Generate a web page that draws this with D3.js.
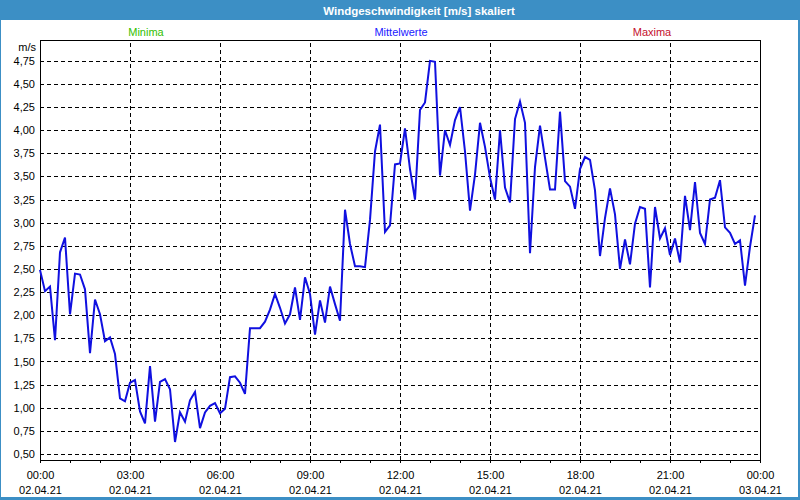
<!DOCTYPE html>
<html>
<head>
<meta charset="utf-8">
<script src="https://cdn.jsdelivr.net/npm/d3@7"></script>
<style>
  html, body { margin: 0; padding: 0; background: #ffffff; }
  svg { display: block; }
  text { font-family: "Liberation Sans", Arial, sans-serif; }
</style>
</head>
<body>
<svg id="chart" width="800" height="500"></svg>
<script>
// ---- data ----
const title = "Windgeschwindigkeit [m/s] skaliert";
const unitLabel = "m/s";
const legendLabels = ["Minima", "Mittelwerte", "Maxima"];
const legendColors = ["#33c000", "#2020ff", "#c4102c"];
const intervalMinutes = 10;
const values = [
  2.49, 2.26, 2.31, 1.73, 2.68, 2.84, 2.01, 2.45, 2.44, 2.28, 1.59, 2.17,
  2.01, 1.72, 1.76, 1.58, 1.10, 1.07, 1.27, 1.30, 0.96, 0.83, 1.45, 0.85,
  1.28, 1.31, 1.20, 0.63, 0.95, 0.85, 1.08, 1.17, 0.78, 0.95, 1.02, 1.05,
  0.94, 0.99, 1.33, 1.34, 1.27, 1.15, 1.86, 1.86, 1.86, 1.93, 2.06, 2.23,
  2.08, 1.91, 2.01, 2.30, 1.95, 2.41, 2.23, 1.79, 2.16, 1.92, 2.31, 2.12,
  1.94, 3.14, 2.77, 2.53, 2.53, 2.52, 3.03, 3.77, 4.06, 2.90, 2.97, 3.63,
  3.64, 4.02, 3.58, 3.25, 4.22, 4.30, 4.75, 4.74, 3.51, 4.00, 3.84, 4.11,
  4.25, 3.77, 3.13, 3.52, 4.08, 3.82, 3.49, 3.25, 4.00, 3.38, 3.22, 4.12,
  4.31, 4.08, 2.67, 3.60, 4.05, 3.70, 3.36, 3.36, 4.20, 3.45, 3.39, 3.15,
  3.58, 3.71, 3.68, 3.35, 2.64, 3.05, 3.37, 3.09, 2.50, 2.82, 2.55, 2.99,
  3.17, 3.15, 2.30, 3.17, 2.83, 2.94, 2.65, 2.83, 2.57, 3.29, 2.92, 3.44,
  2.89, 2.77, 3.25, 3.27, 3.46, 2.95, 2.89, 2.77, 2.81, 2.32, 2.74, 3.08
];
const yTicks = [0.50, 0.75, 1.00, 1.25, 1.50, 1.75, 2.00, 2.25, 2.50, 2.75,
                3.00, 3.25, 3.50, 3.75, 4.00, 4.25, 4.50, 4.75];
const majorTickMinutes = [0, 180, 360, 540, 720, 900, 1080, 1260, 1440];
const tickTimes = ["00:00", "03:00", "06:00", "09:00", "12:00", "15:00", "18:00", "21:00", "00:00"];
const tickDates = ["02.04.21", "02.04.21", "02.04.21", "02.04.21", "02.04.21",
                   "02.04.21", "02.04.21", "02.04.21", "03.04.21"];
const minorTickMinutes = d3.range(0, 1441, 60);

// ---- layout ----
const W = 800, H = 500;
const plot = { left: 40, top: 40, right: 760, bottom: 460 };
const svg = d3.select("#chart");

// window frame
svg.append("rect").attr("x", 0).attr("y", 0).attr("width", W).attr("height", H).attr("fill", "#3c8fc5");
svg.append("rect").attr("x", 1).attr("y", 20).attr("width", 797).attr("height", 477).attr("fill", "#ffffff");
svg.append("text")
  .attr("x", 419).attr("y", 14.5)
  .attr("text-anchor", "middle")
  .attr("fill", "#ffffff")
  .attr("font-weight", "bold")
  .attr("font-size", "11.5px")
  .text(title);

// scales
const x = d3.scaleLinear().domain([0, 1440]).range([plot.left, plot.right]);
const y = d3.scaleLinear().domain([0.435, 4.975]).range([plot.bottom, plot.top]);
const fmt = v => d3.format(".2f")(v).replace(".", ",");

// horizontal gridlines + y labels
const yAxis = d3.axisLeft(y).tickValues(yTicks).tickFormat(fmt)
  .tickSize(-(plot.right - plot.left)).tickPadding(5);
const gy = svg.append("g").attr("transform", `translate(${plot.left},0)`).call(yAxis);
gy.select(".domain").remove();
gy.selectAll(".tick line").attr("stroke", "#000").attr("stroke-dasharray", "4,3")
  .attr("shape-rendering", "crispEdges");
gy.selectAll(".tick text").attr("font-size", "11px").attr("fill", "#000")
  .attr("font-family", "Liberation Sans, Arial, sans-serif");

// vertical gridlines
const xGrid = d3.axisBottom(x).tickValues(majorTickMinutes.slice(1, -1))
  .tickSize(-(plot.bottom - plot.top)).tickFormat("");
const gxg = svg.append("g").attr("transform", `translate(0,${plot.bottom})`).call(xGrid);
gxg.select(".domain").remove();
gxg.selectAll(".tick line").attr("stroke", "#000").attr("stroke-dasharray", "4,3")
  .attr("shape-rendering", "crispEdges");

// minor ticks below axis
const xMinor = d3.axisBottom(x).tickValues(minorTickMinutes).tickSize(3).tickFormat("");
const gxm = svg.append("g").attr("transform", `translate(0,${plot.bottom})`).call(xMinor);
gxm.select(".domain").remove();
gxm.selectAll(".tick line").attr("stroke", "#000").attr("shape-rendering", "crispEdges");

// x labels (two lines)
const xLab = d3.axisBottom(x).tickValues(majorTickMinutes).tickSize(0).tickFormat("");
const gxl = svg.append("g").attr("transform", `translate(0,${plot.bottom})`).call(xLab);
gxl.select(".domain").remove();
gxl.selectAll(".tick").each(function(d, i) {
  const t = d3.select(this).append("text").attr("fill", "#000").attr("font-size", "11px")
    .attr("text-anchor", "middle");
  t.append("tspan").attr("x", 0).attr("y", 19).text(tickTimes[i]);
  t.append("tspan").attr("x", 0).attr("y", 34).text(tickDates[i]);
});

// plot border
svg.append("rect")
  .attr("x", plot.left + 0.5).attr("y", plot.top + 0.5)
  .attr("width", plot.right - plot.left).attr("height", plot.bottom - plot.top)
  .attr("fill", "none").attr("stroke", "#000").attr("shape-rendering", "crispEdges");

// unit label
svg.append("text").attr("x", 36).attr("y", 51).attr("text-anchor", "end")
  .attr("font-size", "11px").attr("fill", "#000").text(unitLabel);

// legend labels
const legendX = [146, 401, 652];
legendLabels.forEach((l, i) => {
  svg.append("text").attr("x", legendX[i]).attr("y", 36).attr("text-anchor", "middle")
    .attr("font-size", "11px").attr("fill", legendColors[i]).text(l);
});

// data line
const line = d3.line()
  .x((d, i) => x(i * intervalMinutes))
  .y(d => y(d));
svg.append("path")
  .datum(values)
  .attr("d", line)
  .attr("fill", "none")
  .attr("stroke", "#1010e0")
  .attr("stroke-width", 2)
  .attr("stroke-linejoin", "miter");
</script>
</body>
</html>
